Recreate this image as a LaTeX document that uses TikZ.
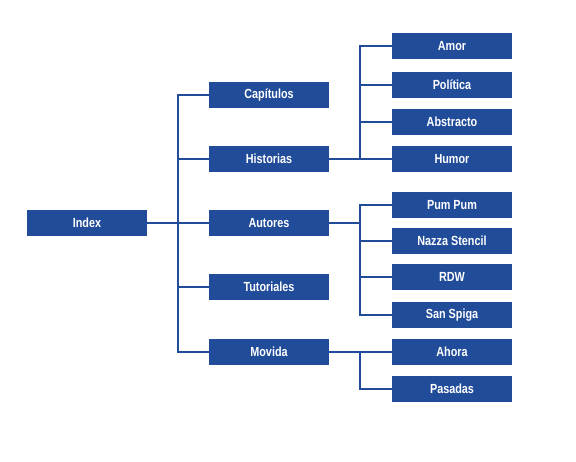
\documentclass[tikz,border=0pt]{standalone}
\usepackage{fontspec}
\setmainfont{Liberation Sans}[FakeStretch=0.82]
\definecolor{boxblue}{RGB}{33,76,153}
\begin{document}
\begin{tikzpicture}[x=1pt,y=-1pt,
  card/.style={fill=boxblue,draw=none,minimum width=120pt,minimum height=26pt,inner sep=0pt,
    text=white,font=\bfseries\fontsize{13.2}{15}\selectfont},
  link/.style={draw=boxblue,line width=2.8pt}]
\useasboundingbox (0,0) rectangle (576,462);
\node[card] (idx) at (87,223) {Index};
\node[card] (cap) at (269,95) {Capítulos};
\node[card] (his) at (269,159) {Historias};
\node[card] (aut) at (269,223) {Autores};
\node[card] (tut) at (269,287) {Tutoriales};
\node[card] (mov) at (269,352) {Movida};
\node[card] (amo) at (452,46) {Amor};
\node[card] (pol) at (452,85) {Política};
\node[card] (abs) at (452,122) {Abstracto};
\node[card] (hum) at (452,159) {Humor};
\node[card] (pum) at (452,205) {Pum Pum};
\node[card] (naz) at (452,241) {Nazza Stencil};
\node[card] (rdw) at (452,277) {RDW};
\node[card] (san) at (452,315) {San Spiga};
\node[card] (aho) at (452,352) {Ahora};
\node[card] (pas) at (452,389) {Pasadas};
\coordinate (b1) at (178,0);
\coordinate (b2) at (360,0);
\foreach \c in {cap,his,aut,tut,mov}
  \draw[link] (idx.east) -| (b1 |- \c.west) -- (\c.west);
\foreach \c in {amo,pol,abs,hum}
  \draw[link] (his.east) -| (b2 |- \c.west) -- (\c.west);
\foreach \c in {pum,naz,rdw,san}
  \draw[link] (aut.east) -| (b2 |- \c.west) -- (\c.west);
\foreach \c in {aho,pas}
  \draw[link] (mov.east) -| (b2 |- \c.west) -- (\c.west);
\end{tikzpicture}
\end{document}
